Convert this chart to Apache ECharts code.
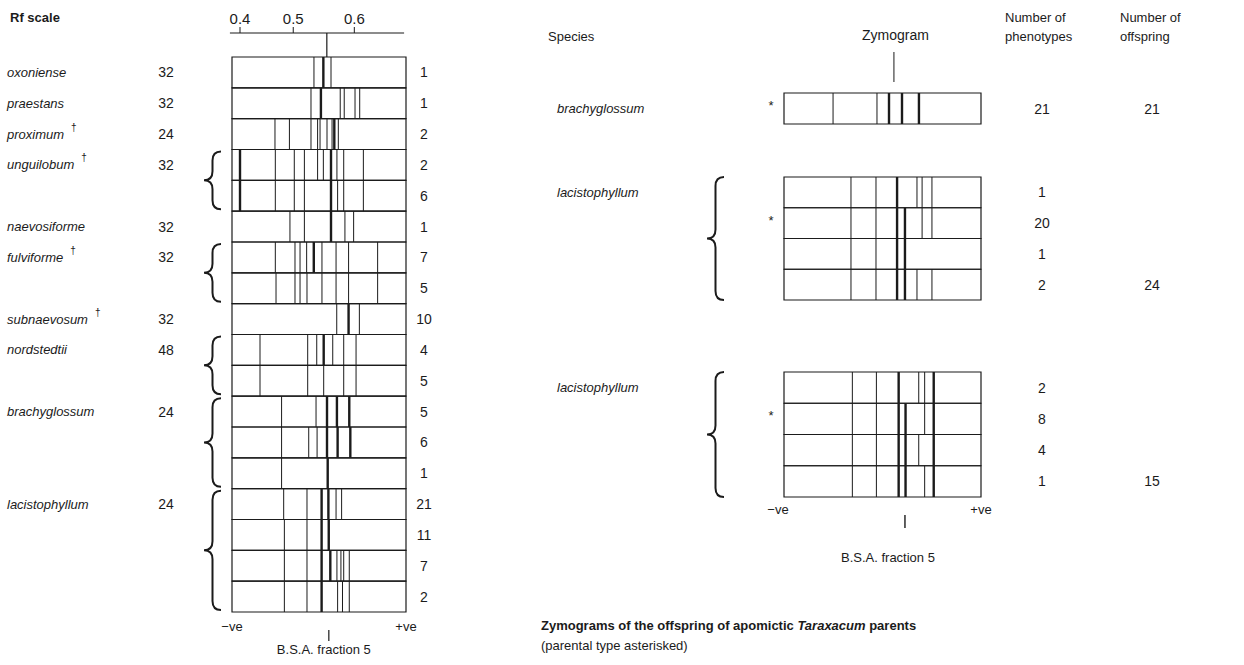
<!DOCTYPE html>
<html style="height: 100%">
<head>
<meta charset="utf-8">
</head>
<body style="height: 100%; margin: 0; background: #fff">
<div id="container" style="width: 1244px; height: 665px"></div>
<script src="https://cdn.jsdelivr.net/npm/echarts@6/dist/echarts.min.js"></script>
<script>
// ---- left panel: 18 zymogram rows, band position in % of gel length (-ve -> +ve) ----
var leftSpecies = ['oxoniense', 'praestans', 'proximum', 'unguilobum', 'naevosiforme',
  'fulviforme', 'subnaevosum', 'nordstedtii', 'brachyglossum', 'lacistophyllum'];
var leftChrom = [32, 32, 24, 32, 32, 32, 32, 48, 24, 24];
var leftDagger = [0, 0, 1, 1, 0, 1, 1, 0, 0, 0];
var leftGroupStart = [0, 1, 2, 3, 5, 6, 8, 9, 11, 14];
var leftGroupSize = [1, 1, 1, 2, 1, 2, 1, 2, 3, 4];
var leftCounts = [1, 1, 2, 2, 6, 1, 7, 5, 10, 4, 5, 5, 6, 1, 21, 11, 7, 2];
// [position, weight]  weight 2 = heavy band
var leftBands = [
  [[47.1, 1], [52.5, 2], [56.9, 1]],
  [[45.4, 1], [51.1, 2], [62.2, 1], [64.5, 1], [70.7, 1], [73.4, 1]],
  [[24.7, 1], [33, 1], [45.4, 1], [49.2, 1], [50.6, 1], [54.6, 1], [57.5, 1], [58.8, 2], [61.1, 1]],
  [[4.6, 2], [24.9, 1], [35.8, 1], [41.6, 1], [49.2, 1], [52.5, 1], [56.9, 2], [60.3, 1], [64.2, 1], [75.5, 1]],
  [[4.6, 2], [24.9, 1], [35.8, 1], [41.6, 1], [56.9, 2], [60.7, 1], [64.2, 1], [75.5, 1]],
  [[33.3, 1], [41.6, 1], [56.9, 2], [64.9, 1], [69.9, 1]],
  [[24.9, 1], [36.2, 1], [39.1, 1], [42.9, 1], [47, 2], [51.7, 1], [59.8, 1], [67, 1], [83.7, 1]],
  [[25.3, 1], [36.2, 1], [39.1, 1], [43.1, 1], [51.7, 1], [59.8, 1], [67, 1], [83.7, 1]],
  [[60.2, 1], [67, 2], [73.2, 1]],
  [[16.1, 1], [43.5, 1], [48.7, 1], [52.7, 2], [57.9, 1], [64.2, 1], [71.3, 1]],
  [[16.1, 1], [43.5, 1], [52.7, 1], [64.2, 1], [71.3, 1]],
  [[28.5, 1], [48.3, 1], [54.6, 2], [60.3, 2], [67.4, 2]],
  [[28.5, 1], [44.1, 1], [48.9, 1], [54.6, 2], [60.7, 2], [68, 2]],
  [[28.5, 1], [55, 2]],
  [[29.7, 1], [43.1, 1], [51.5, 2], [55.4, 2], [59.8, 1], [63, 1]],
  [[30.1, 1], [43.1, 1], [51.5, 2], [55.6, 2]],
  [[30.1, 1], [43.1, 1], [51.5, 2], [56.5, 2], [60.3, 1], [62.6, 1], [64.2, 1], [67.4, 1]],
  [[30.1, 1], [43.1, 1], [51.5, 2], [60.7, 1], [63.5, 1], [67.4, 1]]
];
// Rf scale (non linear along the gel)
var rfTickLabels = ['0.4', '0.5', '0.6'];
var rfTickPos = [4.6, 35.2, 70.3];
var leftMarker = 54.5;

// ---- right panel: offspring of apomictic parents ----
var rightSpecies = ['brachyglossum', 'lacistophyllum', 'lacistophyllum'];
var rightPhenotypes = [[21], [1, 20, 1, 2], [2, 8, 4, 1]];
var rightOffspring = [21, 24, 15];
var rightParentRow = [0, 1, 1];
var rightBands = [
  [
    [[24.9, 1], [47.2, 1], [53.3, 2], [59.9, 2], [68.5, 2]]
  ],
  [
    [[34, 1], [46.7, 1], [57.4, 2], [67.5, 1], [70.1, 1], [75.1, 1]],
    [[34, 1], [46.7, 1], [57.4, 2], [61.4, 2], [70.1, 1], [75.1, 1]],
    [[34, 1], [46.7, 1], [57.4, 2], [61.4, 2]],
    [[34, 1], [46.7, 1], [57.4, 2], [61.4, 2], [67.5, 1], [75.1, 1]]
  ],
  [
    [[34.7, 1], [46.9, 1], [58.2, 2], [68.4, 1], [71.4, 1], [76, 2]],
    [[34.7, 1], [46.9, 1], [58.2, 2], [61.7, 2], [71.4, 1], [76, 2]],
    [[34.7, 1], [46.9, 1], [58.2, 2], [61.7, 2], [68.4, 1], [76, 2]],
    [[34.7, 1], [46.9, 1], [58.2, 2], [61.7, 2], [71.4, 1], [76, 2]]
  ]
];
var rightTopMarker = 55.8;
var rightBottomMarker = 61.4;

// ---- styling ----
var INK = '#1b1b1b';
var FONT = '"Liberation Sans", Arial, sans-serif';
var ctx = document.createElement('canvas').getContext('2d');
function textWidth(t, font) { ctx.font = font; return ctx.measureText(t).width; }

function bracePath(xTip, xArm, y0, y1) {
  var ym = (y0 + y1) / 2, xm = (xTip + xArm) / 2, r = Math.min(9, (y1 - y0) / 6);
  return 'M' + xArm + ' ' + y0 +
    ' Q' + xm + ' ' + y0 + ' ' + xm + ' ' + (y0 + r) +
    ' L' + xm + ' ' + (ym - r) +
    ' Q' + xm + ' ' + ym + ' ' + xTip + ' ' + ym +
    ' Q' + xm + ' ' + ym + ' ' + xm + ' ' + (ym + r) +
    ' L' + xm + ' ' + (y1 - r) +
    ' Q' + xm + ' ' + y1 + ' ' + xArm + ' ' + y1;
}

function txt(x, y, s, size, opts) {
  opts = opts || {};
  return {
    type: 'text',
    style: {
      x: x, y: y, text: s, fill: INK,
      font: (opts.italic ? 'italic ' : '') + (opts.bold ? 'bold ' : '') + size + 'px ' + FONT,
      align: opts.align || 'left', verticalAlign: 'middle'
    }
  };
}
function vline(x, y0, y1, w) {
  return { type: 'line', shape: { x1: x, y1: y0, x2: x, y2: y1 }, style: { stroke: INK, lineWidth: w } };
}

// one zymogram row: outline + bands
function zymoRow(bands) {
  return function (params, api) {
    var r = params.dataIndex;
    var p0 = api.coord([0, r]), p1 = api.coord([100, r + 1]);
    var children = [{
      type: 'rect',
      shape: { x: p0[0], y: p0[1], width: p1[0] - p0[0], height: p1[1] - p0[1] },
      style: { fill: 'none', stroke: INK, lineWidth: 1.2 }
    }];
    bands[r].forEach(function (b) {
      var x = api.coord([b[0], r])[0];
      children.push(vline(x, p0[1], p1[1], b[1] === 2 ? 2.4 : 1));
    });
    return { type: 'group', children: children };
  };
}

var grids = [
  { left: 232, top: 57, width: 174, height: 555 },
  { left: 784, top: 93, width: 197, height: 31 },
  { left: 784, top: 177, width: 197, height: 123 },
  { left: 784, top: 372, width: 197, height: 125 }
];
var xAxes = grids.map(function (g, i) {
  return { gridIndex: i, type: 'value', min: 0, max: 100, show: false };
});
var yAxes = [18, 1, 4, 4].map(function (n, i) {
  return { gridIndex: i, type: 'value', min: 0, max: n, inverse: true, show: false };
});

var series = [];

// left zymograms
series.push({
  type: 'custom', xAxisIndex: 0, yAxisIndex: 0,
  data: leftBands.map(function (b, i) { return [0, i]; }),
  renderItem: zymoRow(leftBands)
});

// left species labels, chromosome numbers, braces
series.push({
  type: 'custom', xAxisIndex: 0, yAxisIndex: 0,
  data: leftSpecies.map(function (s, i) { return [0, leftGroupStart[i]]; }),
  renderItem: function (params, api) {
    var i = params.dataIndex, start = leftGroupStart[i], size = leftGroupSize[i];
    var yc = api.coord([0, start + 0.5])[1];
    var spFont = 'italic 13px ' + FONT;
    var ch = [txt(7, yc, leftSpecies[i], 13, { italic: true }),
      txt(166, yc, String(leftChrom[i]), 14, { align: 'center' })];
    if (leftDagger[i]) {
      ch.push(txt(7 + textWidth(leftSpecies[i], spFont) + 7, yc - 7, '\u2020', 10));
    }
    if (size > 1) {
      var y0 = api.coord([0, start])[1] + 2, y1 = api.coord([0, start + size])[1] - 2;
      ch.push({ type: 'path', shape: { pathData: bracePath(204, 221, y0, y1) },
        style: { fill: 'none', stroke: INK, lineWidth: 2 } });
    }
    return { type: 'group', children: ch };
  }
});

// left phenotype counts
series.push({
  type: 'custom', xAxisIndex: 0, yAxisIndex: 0,
  data: leftCounts.map(function (c, i) { return [100, i]; }),
  renderItem: function (params, api) {
    var i = params.dataIndex;
    var p = api.coord([100, i + 0.5]);
    return txt(p[0] + 18, p[1], String(leftCounts[i]), 14, { align: 'center' });
  }
});

// Rf scale on top of the left panel
series.push({
  type: 'custom', xAxisIndex: 0, yAxisIndex: 0,
  data: rfTickPos.map(function (p) { return [p, 0]; }),
  renderItem: function (params, api) {
    var top = api.coord([0, 0])[1];
    var yAx = top - 24;
    var x = api.coord([rfTickPos[params.dataIndex], 0])[0];
    var ch = [vline(x, yAx - 6, yAx, 1), txt(x, yAx - 15, rfTickLabels[params.dataIndex], 15, { align: 'center' })];
    if (params.dataIndex === 0) {
      var xa = api.coord([-1.2, 0])[0], xb = api.coord([98.9, 0])[0];
      ch.push({ type: 'line', shape: { x1: xa, y1: yAx, x2: xb, y2: yAx }, style: { stroke: INK, lineWidth: 1.2 } });
      var xm = api.coord([leftMarker, 0])[0];
      ch.push(vline(xm, yAx, top, 1.2));
      // bottom legend of the left gel
      var bot = api.coord([0, 18])[1];
      var xl = api.coord([0, 18])[0], xr = api.coord([100, 18])[0];
      ch.push(txt(xl, bot + 14, '\u2212ve', 13, { align: 'center' }));
      ch.push(txt(xr, bot + 14, '+ve', 13, { align: 'center' }));
      ch.push(vline(xm + 2, bot + 18, bot + 29, 1.2));
      ch.push(txt(xm - 3, bot + 37, 'B.S.A. fraction 5', 13, { align: 'center' }));
    }
    return { type: 'group', children: ch };
  }
});

// right panel groups
rightBands.forEach(function (rows, g) {
  var gi = g + 1;
  series.push({
    type: 'custom', xAxisIndex: gi, yAxisIndex: gi,
    data: rows.map(function (r, i) { return [0, i]; }),
    renderItem: zymoRow(rows)
  });
  series.push({
    type: 'custom', xAxisIndex: gi, yAxisIndex: gi,
    data: rows.map(function (r, i) { return [100, i]; }),
    renderItem: function (params, api) {
      var i = params.dataIndex, n = rows.length;
      var yc = api.coord([0, i + 0.5])[1];
      var ch = [txt(1042, yc, String(rightPhenotypes[g][i]), 14, { align: 'center' })];
      if (i === rightParentRow[g]) ch.push(txt(771, yc - 3, '*', 13, { align: 'center' }));
      if (i === n - 1) ch.push(txt(1152, yc, String(rightOffspring[g]), 14, { align: 'center' }));
      if (i === 0) {
        ch.push(txt(557, yc, rightSpecies[g], 13, { italic: true }));
        if (n > 1) {
          var y0 = api.coord([0, 0])[1], y1 = api.coord([0, n])[1];
          ch.push({ type: 'path', shape: { pathData: bracePath(707, 724, y0, y1) },
            style: { fill: 'none', stroke: INK, lineWidth: 2 } });
        }
        if (g === 0) {
          var xt = api.coord([rightTopMarker, 0]);
          ch.push(vline(xt[0], xt[1] - 41, xt[1] - 11, 1));
        }
        if (g === rightBands.length - 1) {
          var bot = api.coord([0, n])[1];
          var xl = api.coord([0, n])[0], xr = api.coord([100, n])[0];
          var xm = api.coord([rightBottomMarker, n])[0];
          ch.push(txt(xl - 6, bot + 12, '\u2212ve', 13, { align: 'center' }));
          ch.push(txt(xr, bot + 12, '+ve', 13, { align: 'center' }));
          ch.push(vline(xm, bot + 18, bot + 31, 1.4));
          ch.push(txt(xm - 17, bot + 60, 'B.S.A. fraction 5', 13, { align: 'center' }));
        }
      }
      return { type: 'group', children: ch };
    }
  });
});

var chart = echarts.init(document.getElementById('container'), null, { renderer: 'svg' });
chart.setOption({
  animation: false,
  backgroundColor: '#fff',
  grid: grids,
  xAxis: xAxes,
  yAxis: yAxes,
  series: series,
  graphic: [
    { type: 'text', left: 10, top: 11, style: { text: 'Rf scale', font: 'bold 13px ' + FONT, fill: INK } },
    { type: 'text', left: 548, top: 30, style: { text: 'Species', font: '13px ' + FONT, fill: INK } },
    { type: 'text', left: 862, top: 28, style: { text: 'Zymogram', font: '14px ' + FONT, fill: INK } },
    { type: 'text', left: 1005, top: 8, style: { text: 'Number of\nphenotypes', font: '13px ' + FONT, lineHeight: 19, fill: INK } },
    { type: 'text', left: 1120, top: 8, style: { text: 'Number of\noffspring', font: '13px ' + FONT, lineHeight: 19, fill: INK } },
    { type: 'text', left: 541, top: 619, style: {
      text: '{b|Zymograms of the offspring of apomictic }{bi|Taraxacum}{b| parents}',
      rich: {
        b: { font: 'bold 13px ' + FONT, fill: INK },
        bi: { font: 'italic bold 13px ' + FONT, fill: INK }
      }
    } },
    { type: 'text', left: 541, top: 639, style: { text: '(parental type asterisked)', font: '13px ' + FONT, fill: INK } }
  ]
});
</script>
</body>
</html>
